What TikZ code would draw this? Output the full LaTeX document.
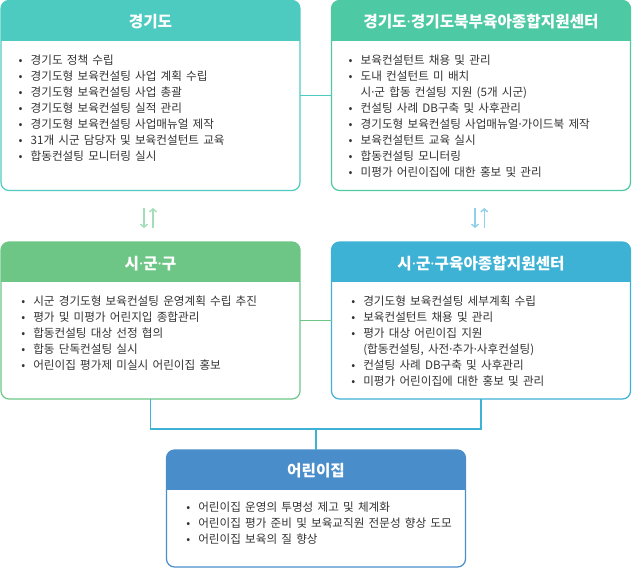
\documentclass[tikz,border=0pt]{standalone}
\usepackage{fontspec}
\setmainfont{Noto Sans CJK KR}
\newfontfamily\dotfont{Noto Sans}
\usetikzlibrary{arrows.meta}
\definecolor{cA}{HTML}{4ECBC0}
\definecolor{cB}{HTML}{4DC9A3}
\definecolor{cC}{HTML}{6DC685}
\definecolor{cD}{HTML}{3DB2D4}
\definecolor{cE}{HTML}{4A8DCB}
\definecolor{arrL}{HTML}{A2DEB8}
\definecolor{arrR}{HTML}{8FD1EA}
\definecolor{txt}{HTML}{333333}
\newcommand\bl{\makebox[20pt][c]{•}}
\newcommand\cn{\hspace*{20pt}}
\newcommand\md{{\dotfont ·}}
\newcommand\panelitems[4]{\foreach \t [count=\i] in {#4}{\node[itemtext] (#1-\i) at (#2,{#3+16*(\i-1)}) {\t};}}
\newcommand\panelhead[2]{\begin{scope}\clip[rounded corners=8pt] (#1.north west) rectangle (#1.south east);
  \fill[#2] (#1.north west) rectangle ([yshift=-40pt]#1.north east);\end{scope}}
\tikzset{
  panel/.style={rectangle, rounded corners=8pt, fill=white, line width=1.2pt, inner sep=0pt, outer sep=0pt, minimum width=299pt},
  itemtext/.style={anchor=base west, inner sep=0pt, outer sep=0pt, text=txt, font={\fontsize{11.6pt}{16pt}\selectfont\spaceskip=4.2pt plus 1pt\relax}},
  titletext/.style={inner sep=0pt, text=white, font={\fontsize{15.7pt}{18pt}\selectfont\bfseries}},
  conn/.style={line width=1.1pt},
  updown/.style={line width=1.4pt, -{Straight Barb[length=3pt,width=7pt]}}
}
\begin{document}
\begin{tikzpicture}[x=1pt,y=-1pt]
\useasboundingbox (0,0) rectangle (632,568);
% boxes
\node[panel, draw=cA, minimum height=190pt] (b1) at (150.5,95.5) {};
\node[panel, draw=cB, minimum height=190pt] (b2) at (481,95.5) {};
\node[panel, draw=cC, minimum height=157pt] (b3) at (150.5,320.5) {};
\node[panel, draw=cD, minimum height=157pt] (b4) at (481,320.5) {};
\node[panel, draw=cE, minimum height=117pt] (b5) at (316,508.5) {};
\panelhead{b1}{cA}
\panelhead{b2}{cB}
\panelhead{b3}{cC}
\panelhead{b4}{cD}
\panelhead{b5}{cE}
% titles
\node[titletext] (b1-title) at ([yshift=-21.5pt]b1.north) {경기도};
\node[titletext] (b2-title) at ([yshift=-21.5pt]b2.north) {경기도\md{}경기도북부육아종합지원센터};
\node[titletext] (b3-title) at ([yshift=-22pt]b3.north) {시\md{}군\md{}구};
\node[titletext] (b4-title) at ([yshift=-22pt]b4.north) {시\md{}군\md{}구육아종합지원센터};
\node[titletext] (b5-title) at ([yshift=-21pt]b5.north) {어린이집};
% items
\panelitems{b1}{10.7}{64.2}{\bl{}경기도 정책 수립,\bl{}경기도형 보육컨설팅 사업 계획 수립,\bl{}경기도형 보육컨설팅 사업 총괄,\bl{}경기도형 보육컨설팅 실적 관리,\bl{}경기도형 보육컨설팅 사업매뉴얼 제작,\bl{}31개 시군 담당자 및 보육컨설턴트 교육,\bl{}합동컨설팅 모니터링 실시}
\panelitems{b2}{340.7}{64.2}{\bl{}보육컨설턴트 채용 및 관리,\bl{}도내 컨설턴트 미 배치,\cn{}시\md{}군 합동 컨설팅 지원 (5개 시군),\bl{}컨설팅 사례 DB구축 및 사후관리,\bl{}경기도형 보육컨설팅 사업매뉴얼\md{}가이드북 제작,\bl{}보육컨설턴트 교육 실시,\bl{}합동컨설팅 모니터링,\bl{}미평가 어린이집에 대한 홍보 및 관리}
\panelitems{b3}{13.3}{305.2}{\bl{}시군 경기도형 보육컨설팅 운영계획 수립 추진,\bl{}평가 및 미평가 어린지입 종합관리,\bl{}합동컨설팅 대상 선정 협의,\bl{}합동 단독컨설팅 실시,\bl{}어린이집 평가제 미실시 어린이집 홍보}
\panelitems{b4}{343.3}{305.2}{\bl{}경기도형 보육컨설팅 세부계획 수립,\bl{}보육컨설턴트 채용 및 관리,\bl{}평가 대상 어린이집 지원,{\cn{}(합동컨설팅, 사전\md{}추가\md{}사후컨설팅)},\bl{}컨설팅 사례 DB구축 및 사후관리,\bl{}미평가 어린이집에 대한 홍보 및 관리}
\panelitems{b5}{178.3}{511.5}{\bl{}어린이집 운영의 투명성 제고 및 체계화,\bl{}어린이집 평가 준비 및 보육교직원 전문성 향상 도모,\bl{}어린이집 보육의 질 향상}
% connectors
\draw[conn, cA] (b1.east) -- (b2.west);
\draw[conn, cC] (b3.east) -- (b4.west);
\coordinate (j) at (316,429);
\draw[conn, cD] (b3.south) |- (j) -| (b4.south);
\draw[conn, cD] (j) -- (b5.north);
% up/down arrows
\draw[updown, arrL] ([xshift=-6.5pt,yshift=-17.5pt]b1.south) -- ([xshift=-6.5pt,yshift=14pt]b3.north);
\draw[updown, arrL] ([xshift=2.5pt,yshift=14pt]b3.north) -- ([xshift=2.5pt,yshift=-17.5pt]b1.south);
\draw[updown, arrR] ([xshift=-6pt,yshift=-17.5pt]b2.south) -- ([xshift=-6pt,yshift=14pt]b4.north);
\draw[updown, arrR] ([xshift=3.3pt,yshift=14pt]b4.north) -- ([xshift=3.3pt,yshift=-17.5pt]b2.south);
\end{tikzpicture}
\end{document}
